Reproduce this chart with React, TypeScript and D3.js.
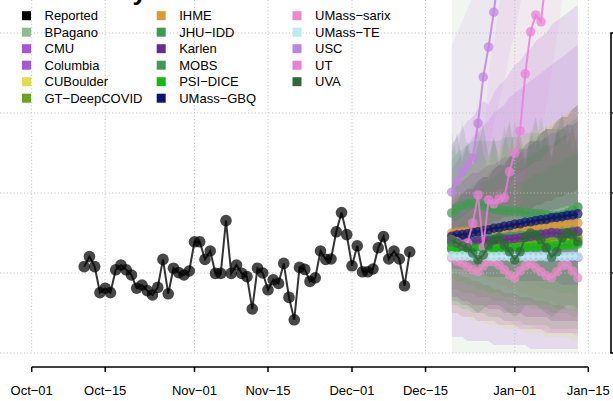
import React from "react";
import * as d3 from "d3";

// ---------- data ----------
const axisStart = "2020-10-01";
const axisEnd = "2021-01-15";
const tickDates = ["2020-10-01", "2020-10-15", "2020-11-01", "2020-11-15", "2020-12-01", "2020-12-15", "2021-01-01", "2021-01-15"];
const tickLabels = ["Oct\u221201", "Oct\u221215", "Nov\u221201", "Nov\u221215", "Dec\u221201", "Dec\u221215", "Jan\u221201", "Jan\u221215"];
const gridValues = [0, 20, 40, 60, 80];

const reportedStart = "2020-10-11";
const reported = [21.6, 24.1, 21.6, 15.1, 16.2, 15.1, 20.8, 22, 20.8, 19.5, 16.2, 17, 15.6, 14.5, 16.4, 23.4, 14.8, 21.2, 20.1, 19.5, 20.5, 27.8, 27.8, 23.4, 25.5, 19.9, 19.9, 33.1, 19.9, 22, 19.9, 19.1, 11, 21.2, 20, 15.8, 18.3, 17.4, 22.4, 13.9, 8.3, 21.4, 20.9, 17.9, 18.8, 25.5, 23.4, 23.5, 30.3, 35.1, 29.6, 21.8, 26.8, 20.3, 20.3, 21, 26.3, 29.1, 23.5, 25.5, 23.5, 16.8, 25.3];

const forecastStart = "2020-12-20";

const modelNames = ["BPagano", "CMU", "Columbia", "CUBoulder", "GT\u2212DeepCOVID", "IHME", "JHU\u2212IDD", "Karlen", "MOBS", "PSI\u2212DICE", "UMass\u2212GBQ", "UMass\u2212sarix", "UMass\u2212TE", "USC", "UT", "UVA"];
const modelColors = ["#8fbc8f", "#a855d6", "#a45ad4", "#e3dc4b", "#6aa31f", "#dc9a30", "#3f9a4f", "#6b2c8f", "#409b52", "#12b912", "#0c1470", "#e98bc8", "#b8eef3", "#c083e0", "#ea7fd8", "#2d6a36"];
// ribbon alpha per model (style)
const ribbonAlpha = [0.13, 0.17, 0.17, 0.17, 0.15, 0.17, 0.15, 0.17, 0.15, 0.15, 0.17, 0.17, 0.17, 0.11, 0.11, 0.15];

// medians
const bpaganoMed = [27.5, 27.9, 28.2, 28.6, 29.0, 29.3, 29.7, 30.1, 30.4, 30.8, 31.2, 31.5, 31.9, 32.3, 32.6, 33.0, 33.4, 33.7, 34.1, 34.5, 34.8, 35.2, 35.6, 35.9, 36.4];
const cmuMed = [25.8, 25.6, 25.5, 25.3, 25.2, 25.0, 24.9, 24.8, 24.8, 24.7, 24.6, 24.6, 24.5, 24.5, 24.4, 24.4, 24.3, 24.3, 24.2, 24.2, 24.1, 24.1, 24.0, 24.0, 23.9];
const columbiaMed = [26.8, 26.9, 27.0, 27.0, 27.1, 27.2, 27.2, 27.3, 27.4, 27.4, 27.5, 27.6, 27.6, 27.7, 27.8, 27.8, 27.9, 28.0, 28.0, 28.1, 28.2, 28.2, 28.3, 28.4, 28.4];
const cuboulderMed = [27.0, 27.1, 27.3, 27.2, 27.4, 27.5, 27.4, 27.6, 27.7, 27.6, 27.8, 27.9, 27.8, 28.0, 28.1, 28.0, 28.2, 28.3, 28.2, 28.4, 28.5, 28.4, 28.6, 28.7, 28.6];
const gtMed = [26.0, 26.2, 26.1, 26.4, 26.6, 26.5, 26.8, 27.0, 26.9, 27.2, 27.4, 27.3, 27.6, 27.7, 27.9, 28.0, 28.1, 28.3, 28.2, 28.5, 28.6, 28.8, 28.7, 29.0, 29.1];
const ihmeMed = [30.0, 30.2, 30.3, 30.4, 30.5, 30.6, 30.8, 30.9, 31.0, 31.0, 31.1, 31.2, 31.3, 31.4, 31.5, 31.6, 31.7, 31.7, 31.8, 31.9, 32.0, 32.1, 32.2, 32.4, 32.5];
const jhuMed = [28.0, 28.2, 28.1, 28.4, 28.3, 28.6, 28.5, 28.8, 28.7, 29.0, 28.9, 29.2, 29.1, 29.4, 29.3, 29.6, 29.5, 29.8, 29.7, 30.0, 29.9, 30.2, 30.1, 30.4, 30.3];
const karlenMed = [27.6, 27.7, 27.8, 27.8, 27.9, 28.0, 28.1, 28.1, 28.2, 28.3, 28.4, 28.5, 28.6, 28.8, 28.9, 29.1, 29.3, 29.6, 29.8, 30.1, 30.0, 29.8, 29.9, 30.2, 30.4];
const mobsMed = [35, 36, 36.8, 37.3, 37.5, 37.3, 36.8, 36.3, 36, 35.8, 35.5, 35.5, 35.3, 35.3, 35, 35, 34.8, 34.8, 34.5, 34.3, 34.3, 34.5, 35, 35.8, 36.5];
const psiMed = [26.5, 26.4, 26.3, 26.2, 26.2, 26.1, 26.1, 26.0, 26.0, 26.1, 26.1, 26.2, 26.2, 26.3, 26.4, 26.4, 26.5, 26.6, 26.7, 26.7, 26.8, 26.9, 27.0, 27.1, 27.2];
const gbqMed = [29.2, 29.5, 29.6, 29.8, 30.2, 30.3, 30.7, 30.8, 31.2, 31.3, 31.7, 31.8, 32.2, 32.3, 32.7, 32.8, 33.1, 33.3, 33.4, 33.8, 33.9, 34.1, 34.4, 34.5, 34.8];
const sarixMed = [23.8, 23.0, 22.5, 21.5, 20.8, 20.3, 21.8, 22.8, 22.8, 22.0, 20.8, 19.5, 18.8, 20.5, 21.8, 22.3, 21.3, 20.3, 19.3, 18.8, 20.3, 21.8, 22.0, 20.5, 18.8];
const teMed = [24.3, 24.2, 24.3, 24.2, 24.2, 24.3, 24.2, 24.2, 24.1, 24.2, 24.2, 24.1, 24.2, 24.2, 24.1, 24.2, 24.1, 24.2, 24.1, 24.1, 24.2, 24.1, 24.1, 24.2, 24.1];
const uscMed = [40.2, 43, 45.2, 47, 48.8, 57.4, 69, 76.5, 85.2, 96, 108, 121, 135, 150, 166, 183, 201, 220, 240, 262, 285, 309, 334, 360, 388];
const utMed = [28.3, 27.8, 27, 27.5, 32.5, 39.5, 26.5, 38.3, 37.3, 38.5, 38.8, 45.3, 50, 55.5, 69.8, 80.3, 84.5, 82.8, 95, 108, 122, 137, 153, 170, 188];
const uvaMed = [28.3, 27.5, 26.8, 26.3, 25, 23.3, 24.5, 27, 28.3, 28.8, 27, 25.3, 23.3, 25.3, 29, 30, 29.5, 28.3, 26.3, 24, 25.3, 28.8, 30, 29.5, 27.8];

// 95% intervals
const bpaganoLo = [0, 0, 0, 0, 0, 0, 0, 0, 0, 0, 0, 0, 0, 0, 0, 0, 0, 0, 0, 0, 0, 0, 0, 0, 0];
const bpaganoHi = [100, 100, 100, 100, 100, 100, 100, 100, 100, 100, 100, 100, 100, 100, 100, 100, 100, 100, 100, 100, 100, 100, 100, 100, 100];
const cmuLo = [4, 4, 4, 3, 3, 3, 3, 3, 2, 2, 2, 2, 2, 2, 2, 1, 1, 1, 1, 1, 1, 1, 1, 1, 1];
const cmuHi = [52, 54, 56, 58, 59, 61, 63, 62, 65, 67, 68, 70, 72, 73, 75, 76, 78, 79, 80, 82, 83, 84, 85, 86, 87];
const columbiaLo = [10, 10, 9, 9, 9, 8, 8, 8, 8, 7, 7, 7, 7, 6, 6, 6, 6, 6, 5, 5, 5, 5, 5, 5, 5];
const columbiaHi = [46, 48, 50, 52, 54, 55, 57, 58, 60, 61, 62, 64, 65, 66, 67, 68, 69, 70, 71, 72, 73, 74, 75, 76, 77];
const cuboulderLo = [10, 10, 9, 9, 8, 8, 8, 7, 7, 7, 6, 6, 6, 6, 5, 5, 5, 5, 4, 4, 4, 4, 4, 3, 3];
const cuboulderHi = [44, 45, 45, 46, 47, 48, 48, 49, 50, 51, 51, 52, 53, 54, 54, 55, 56, 56, 57, 58, 58, 59, 60, 60, 61];
const gtLo = [16, 16, 15, 15, 15, 14, 14, 14, 13, 13, 13, 12, 12, 12, 12, 11, 11, 11, 11, 10, 10, 10, 10, 9, 9];
const gtHi = [38, 39, 40, 40, 41, 42, 43, 43, 44, 45, 46, 46, 47, 48, 49, 49, 50, 51, 52, 52, 53, 54, 55, 55, 56];
const ihmeLo = [22, 21, 21, 20, 20, 19, 19, 18, 18, 17, 17, 16, 16, 15, 15, 14, 14, 14, 13, 13, 12, 12, 12, 11, 11];
const ihmeHi = [38, 39, 40, 41, 42, 43, 44, 45, 46, 47, 48, 49, 50, 51, 52, 53, 54, 55, 56, 57, 58, 59, 60, 61, 62];
const jhuLo = [12, 12, 11, 11, 10, 10, 10, 9, 9, 9, 8, 8, 8, 8, 7, 7, 7, 7, 7, 6, 6, 6, 6, 6, 6];
const jhuHi = [55, 49, 58, 51, 47, 56, 50, 46, 54, 49, 57, 50, 58, 52, 47, 56, 51, 59, 53, 48, 57, 52, 58, 50, 55];
const karlenLo = [14, 14, 13, 13, 12, 12, 12, 11, 11, 11, 10, 10, 10, 10, 9, 9, 9, 9, 9, 8, 8, 8, 8, 8, 8];
const karlenHi = [42, 43, 43, 44, 45, 45, 46, 47, 47, 48, 49, 49, 50, 51, 51, 52, 53, 53, 54, 55, 55, 56, 57, 57, 58];
const mobsLo = [22, 22, 21, 21, 21, 20, 20, 20, 19, 19, 19, 18, 18, 18, 17, 17, 17, 16, 16, 16, 15, 15, 15, 15, 14];
const mobsHi = [48, 50, 51, 52, 53, 53, 53, 53, 53, 53, 54, 54, 54, 54, 55, 55, 55, 55, 56, 56, 56, 56, 57, 58, 59];
const psiLo = [19, 18, 18, 17, 17, 16, 16, 15, 15, 15, 14, 14, 14, 13, 13, 13, 12, 12, 12, 12, 11, 11, 11, 11, 10];
const psiHi = [34, 35, 35, 36, 37, 37, 38, 39, 39, 40, 41, 41, 42, 43, 43, 44, 45, 45, 46, 47, 47, 48, 49, 49, 50];
const gbqLo = [21, 21, 21, 20, 20, 20, 20, 19, 19, 19, 19, 19, 19, 18, 18, 18, 18, 18, 18, 18, 18, 17, 17, 17, 17];
const gbqHi = [37, 38, 40, 41, 41, 43, 44, 44, 46, 47, 47, 49, 50, 50, 52, 53, 53, 55, 56, 56, 58, 59, 59, 61, 62];
const sarixLo = [15, 14, 13, 12, 11, 10, 10, 10, 9, 9, 8, 8, 7, 7, 7, 7, 6, 6, 6, 5, 5, 5, 5, 5, 4];
const sarixHi = [33, 33, 34, 35, 36, 36, 38, 39, 40, 41, 41, 42, 44, 45, 46, 47, 48, 48, 50, 51, 52, 53, 54, 55, 56];
const teLo = [20, 20, 19, 19, 18, 18, 17, 17, 16, 16, 15, 15, 15, 14, 14, 14, 13, 13, 13, 12, 12, 12, 11, 11, 11];
const teHi = [29, 29, 30, 30, 31, 31, 32, 32, 33, 33, 34, 34, 35, 35, 36, 36, 37, 37, 38, 38, 39, 39, 40, 40, 41];
const uscLo = [30, 31, 33, 34, 35, 39, 45, 51, 57, 63, 68, 75, 80, 87, 93, 98, 105, 111, 116, 123, 129, 134, 141, 147, 152];
const uscHi = [77, 80, 83, 86, 89, 100, 120, 135, 150, 170, 190, 210, 230, 250, 270, 290, 310, 330, 350, 370, 390, 410, 430, 450, 470];
const utLo = [20, 20, 19, 19, 22, 26, 19, 25, 25, 26, 26, 30, 33, 37, 46, 53, 56, 55, 62, 70, 79, 88, 98, 108, 120];
const utHi = [40, 41, 42, 44, 52, 64, 50, 70, 78, 86, 95, 105, 115, 125, 140, 155, 170, 180, 200, 220, 240, 260, 280, 300, 320];
const uvaLo = [13, 13, 12, 12, 11, 10, 11, 12, 12, 12, 11, 10, 9, 10, 12, 12, 12, 11, 10, 9, 10, 11, 12, 12, 11];
const uvaHi = [50, 55, 48, 53, 47, 52, 57, 49, 54, 47, 53, 58, 50, 55, 48, 54, 59, 51, 57, 49, 55, 60, 52, 57, 50];

const medians = [bpaganoMed, cmuMed, columbiaMed, cuboulderMed, gtMed, ihmeMed, jhuMed, karlenMed, mobsMed, psiMed, gbqMed, sarixMed, teMed, uscMed, utMed, uvaMed];
const lows = [bpaganoLo, cmuLo, columbiaLo, cuboulderLo, gtLo, ihmeLo, jhuLo, karlenLo, mobsLo, psiLo, gbqLo, sarixLo, teLo, uscLo, utLo, uvaLo];
const highs = [bpaganoHi, cmuHi, columbiaHi, cuboulderHi, gtHi, ihmeHi, jhuHi, karlenHi, mobsHi, psiHi, gbqHi, sarixHi, teHi, uscHi, utHi, uvaHi];

const titleText = "Kentucky";

// ---------- chart ----------
const W = 613;
const H = 401;
const FONT = "'Liberation Sans', Arial, Helvetica, sans-serif";

const parse = (s: string) => new Date(s + "T00:00:00Z");

export default function App() {
  const x = d3.scaleUtc().domain([parse(axisStart), parse(axisEnd)]).range([31.7, 588.3]);
  const y = d3.scaleLinear().domain([0, 80]).range([353, 33]);

  const repDates = reported.map((_, i) => d3.utcDay.offset(parse(reportedStart), i));
  const fcDates = bpaganoMed.map((_, i) => d3.utcDay.offset(parse(forecastStart), i));

  const repLine = d3.line<number>().x((_, i) => x(repDates[i])).y((d) => y(d));
  const fcLine = d3.line<number>().x((_, i) => x(fcDates[i])).y((d) => y(d));

  const models = modelNames.map((name, k) => ({
    name,
    color: modelColors[k],
    alpha: ribbonAlpha[k],
    med: medians[k],
    lo: lows[k],
    hi: highs[k],
  }));

  const legendItems = [{ name: "Reported", color: "#000000" }, ...models.map((m) => ({ name: m.name, color: m.color }))];
  const colX = [22, 156.7, 292.5];
  const rowY0 = 15.7;
  const rowStep = 16.5;

  return (
    <svg width={W} height={H} style={{ position: "absolute", left: 0, top: 0, background: "#fff" }} fontFamily={FONT}>
      <style>{`body{margin:0;overflow:hidden}`}</style>
      <rect x={0} y={0} width={W} height={H} fill="#fff" />

      {/* ribbons */}
      <g>
        {models.map((m) => {
          const area = d3
            .area<number>()
            .x((_, i) => x(fcDates[i]))
            .y0((_, i) => y(m.lo[i]))
            .y1((d) => y(d));
          return <path key={"r" + m.name} d={area(m.hi) || ""} fill={m.color} fillOpacity={m.alpha} stroke="none" />;
        })}
      </g>

      {/* grid */}
      <g stroke="#bdbdbd" strokeWidth={1} strokeDasharray="1 2.4">
        {gridValues.map((v) => (
          <line key={"h" + v} x1={0} x2={611} y1={y(v)} y2={y(v)} />
        ))}
        {tickDates.map((t) => (
          <line key={"v" + t} x1={x(parse(t))} x2={x(parse(t))} y1={0} y2={y(0)} />
        ))}
      </g>

      {/* forecast medians */}
      {models.map((m) => (
        <g key={"m" + m.name}>
          <path d={fcLine(m.med) || ""} fill="none" stroke={m.color} strokeWidth={2} strokeOpacity={0.85} />
          {m.med.map((v, i) => (
            <circle key={i} cx={x(fcDates[i])} cy={y(v)} r={4.8} fill={m.color} fillOpacity={0.72} />
          ))}
        </g>
      ))}

      {/* reported */}
      <path d={repLine(reported) || ""} fill="none" stroke="#000" strokeWidth={2} strokeOpacity={0.8} />
      {reported.map((v, i) => (
        <circle key={"p" + i} cx={x(repDates[i])} cy={y(v)} r={5.8} fill="#000" fillOpacity={0.72} />
      ))}

      {/* title (cropped at the top edge, as in the source) */}
      <text x={147} y={0} textAnchor="end" fontSize={26} fontWeight="bold" fill="#000">
        {titleText}
      </text>

      {/* legend */}
      {legendItems.map((it, k) => {
        const col = Math.floor(k / 6);
        const row = k % 6;
        const cy = rowY0 + row * rowStep;
        return (
          <g key={"l" + it.name}>
            <rect x={colX[col]} y={cy - 4.5} width={9} height={9} fill={it.color} />
            <text x={colX[col] + 22.5} y={cy + 4.7} fontSize={13} fill="#000">
              {it.name}
            </text>
          </g>
        );
      })}

      {/* x axis */}
      <line x1={x(parse(axisStart))} x2={x(parse(axisEnd))} y1={367} y2={367} stroke="#000" strokeWidth={1.7} />
      {tickDates.map((t, i) => (
        <g key={"t" + t}>
          <line x1={x(parse(t))} x2={x(parse(t))} y1={367} y2={372} stroke="#000" strokeWidth={1.5} />
          <text x={x(parse(t))} y={395} textAnchor="middle" fontSize={13} fill="#000">
            {tickLabels[i]}
          </text>
        </g>
      ))}

      {/* neighbouring panel frame */}
      <rect x={611} y={y(80)} width={20} height={y(0) - y(80)} fill="#fff" stroke="#000" strokeWidth={1.6} />
      {[20, 40, 60].map((v) => (
        <line key={"rt" + v} x1={611} x2={615} y1={y(v)} y2={y(v)} stroke="#000" strokeWidth={1.2} />
      ))}
    </svg>
  );
}
